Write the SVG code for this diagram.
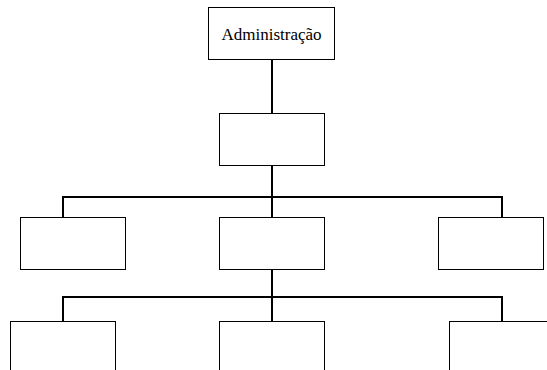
<svg xmlns="http://www.w3.org/2000/svg" width="547" height="370" viewBox="0 0 547 370">
<style>
.box{fill:#fff;stroke:#000;stroke-width:1}
.con{fill:none;stroke:#000;stroke-width:2}
.lbl{font-family:"Liberation Serif",serif;font-size:17px;fill:#000}
</style>
<rect width="547" height="370" fill="#fff"/>
<g id="connectors">
<path class="con" d="M272 60V113"/>
<path class="con" d="M272 165V217"/>
<path class="con" d="M63 217V197H502V217"/>
<path class="con" d="M272 269V322"/>
<path class="con" d="M63 322V297H502V322"/>
</g>
<g id="n-admin"><rect class="box" x="208.5" y="7.5" width="126" height="52"/><text class="lbl" x="271.5" y="39.5" text-anchor="middle">Administração</text></g>
<g id="n-l1"><rect class="box" x="219.5" y="113.5" width="105" height="52"/></g>
<g id="n-l2a"><rect class="box" x="20.5" y="217.5" width="105" height="52"/></g>
<g id="n-l2b"><rect class="box" x="219.5" y="217.5" width="105" height="52"/></g>
<g id="n-l2c"><rect class="box" x="438.5" y="217.5" width="105" height="52"/></g>
<g id="n-l3a"><rect class="box" x="10.5" y="321.5" width="105" height="60"/></g>
<g id="n-l3b"><rect class="box" x="219.5" y="321.5" width="105" height="60"/></g>
<g id="n-l3c"><rect class="box" x="449.5" y="321.5" width="105" height="60"/></g>
</svg>
